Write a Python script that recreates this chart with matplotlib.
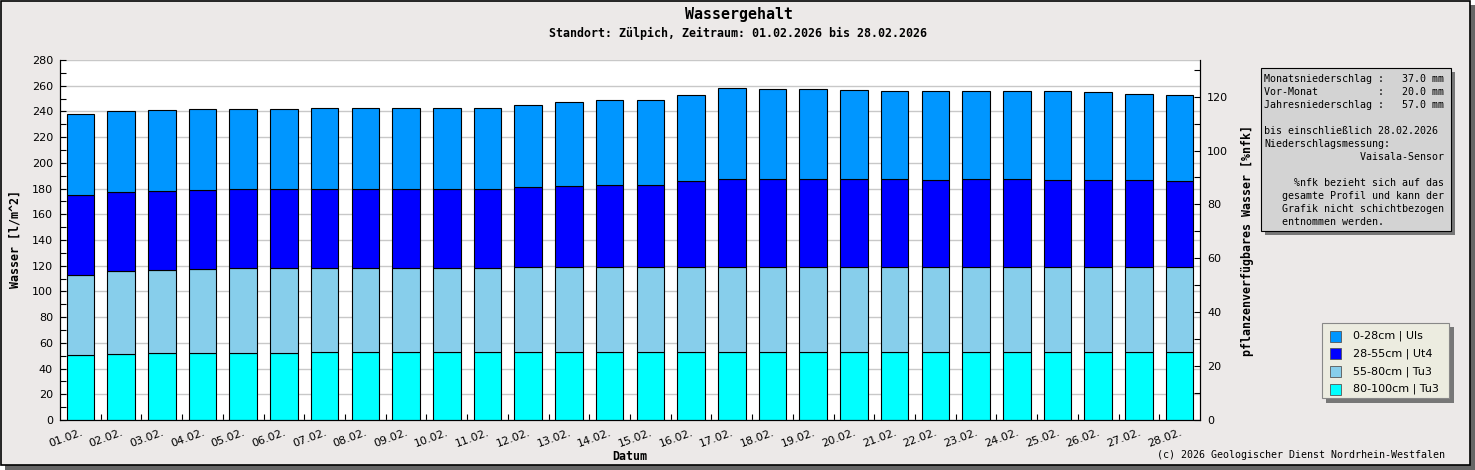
import numpy as np
import matplotlib
matplotlib.use('Agg')
import matplotlib.pyplot as plt
from matplotlib.patches import Rectangle
from matplotlib.ticker import MultipleLocator, FixedLocator
from matplotlib.transforms import ScaledTranslation

# Daten (Wassergehalt je Schicht in l/m^2)
dates = ['%02d.02.' % d for d in range(1, 29)]

layer_80_100 = [50.6, 51.3, 52.1, 52.1, 52.1, 52.1, 52.6, 52.6, 52.6, 52.6,
                52.6, 52.6, 52.6, 52.6, 52.6, 52.6, 52.6, 52.6, 52.6, 52.6,
                52.6, 52.6, 52.6, 52.6, 52.6, 52.6, 52.6, 52.6]
layer_55_80 = [62.4, 64.3, 64.3, 65.1, 65.9, 65.9, 65.4, 65.4, 65.4, 65.4,
               65.4, 66.2, 66.2, 66.2, 66.2, 66.2, 66.2, 66.2, 66.2, 66.2,
               66.2, 66.2, 66.2, 66.2, 66.2, 66.2, 66.2, 66.2]
layer_28_55 = [61.8, 61.5, 61.7, 61.7, 61.7, 61.7, 61.7, 61.7, 61.7, 61.7,
               61.7, 62.2, 63.0, 63.7, 63.7, 67.1, 68.6, 68.6, 68.6, 68.6,
               68.6, 67.9, 68.6, 68.6, 67.9, 67.9, 67.9, 66.9]
layer_0_28 = [63.0, 63.0, 62.8, 62.7, 61.9, 61.9, 62.7, 62.7, 62.7, 62.7,
              62.7, 64.0, 65.3, 66.1, 66.1, 66.9, 70.6, 69.8, 69.8, 69.0,
              68.2, 68.9, 68.2, 68.2, 68.9, 68.1, 66.6, 66.8]

layer_names = ['80-100cm | Tu3', '55-80cm | Tu3', '28-55cm | Ut4', '0-28cm | Uls']
layer_colors = ['#00FFFF', '#87CEEB', '#0000FF', '#0096FF']

info_lines = [
    'Monatsniederschlag :   37.0 mm',
    'Vor-Monat          :   20.0 mm',
    'Jahresniederschlag :   57.0 mm',
    '',
    'bis einschließlich 28.02.2026',
    'Niederschlagsmessung:',
    '                Vaisala-Sensor',
    '',
    '     %nfk bezieht sich auf das',
    '   gesamte Profil und kann der',
    '   Grafik nicht schichtbezogen',
    '   entnommen werden.',
]

W, H = 1475, 470
bg = '#ECE9E8'
mono = 'DejaVu Sans Mono'


def fx(x):
    return x / W


def fy(y):
    return 1 - y / H


def box(x0, y0, x1, y1, **kw):
    # rectangle in pixel coords of the figure (y downwards)
    return Rectangle((fx(x0), fy(y1)), (x1 - x0) / W, (y1 - y0) / H,
                     transform=fig.transFigure, **kw)


fig = plt.figure(figsize=(W / 100, H / 100), dpi=100, facecolor='white')

# Rahmen mit Schatten
fig.add_artist(box(5, 5, 1475, 470, facecolor='#666666', edgecolor='none', zorder=-20))
fig.add_artist(box(0.5, 0.5, 1470, 465, facecolor=bg, edgecolor='black', lw=1.2, zorder=-19))

ax = fig.add_axes([fx(60), fy(420), 1140 / W, 360 / H])
x = np.arange(len(dates))
bottom = np.zeros(len(dates))
for vals, col in zip([layer_80_100, layer_55_80, layer_28_55, layer_0_28], layer_colors):
    ax.bar(x, vals, 0.68, bottom=bottom, color=col, edgecolor='black',
           linewidth=0.8, zorder=3)
    bottom += np.array(vals)

ax.set_xlim(-0.5, len(dates) - 0.5)
ax.set_ylim(0, 280)
ax.set_xticks(x)
ax.set_xticklabels(dates, rotation=20, ha='right', rotation_mode='anchor', fontsize=8)
offset = ScaledTranslation(-7 / 100, 0, fig.dpi_scale_trans)
for lab in ax.get_xticklabels():
    lab.set_transform(lab.get_transform() + offset)
ax.xaxis.set_minor_locator(FixedLocator(np.arange(0.5, len(dates) - 0.5, 1)))
ax.tick_params(axis='x', which='major', length=0, pad=5)
ax.tick_params(axis='x', which='minor', direction='in', length=4, width=0.8)

ax.set_yticks(range(0, 281, 20))
ax.yaxis.set_minor_locator(MultipleLocator(10))
ax.tick_params(axis='y', which='both', direction='in', length=4, width=0.8,
               labelsize=8, pad=5)
ax.grid(axis='y', color='#C8C8C8', lw=1)
ax.set_axisbelow(True)
ax.spines['top'].set_visible(False)
for s in ['left', 'bottom', 'right']:
    ax.spines[s].set_linewidth(0.8)

ax2 = ax.twinx()
ax2.set_ylim(0, 133.6)
ax2.set_yticks(range(0, 121, 20))
ax2.yaxis.set_minor_locator(MultipleLocator(10))
ax2.tick_params(axis='y', which='both', direction='in', length=4, width=0.8,
                labelsize=8, pad=5)
ax2.spines['top'].set_visible(False)
ax2.spines['right'].set_linewidth(0.8)

# Titel und Achsenbeschriftungen
fig.text(fx(739), fy(14), 'Wassergehalt', ha='center', va='center',
         family=mono, weight='bold', size=10.8)
fig.text(fx(738), fy(33), 'Standort: Zülpich, Zeitraum: 01.02.2026 bis 28.02.2026',
         ha='center', va='center', family=mono, weight='bold', size=8.4)
fig.text(fx(15), fy(239), 'Wasser [l/m^2]', ha='center', va='center', rotation=90,
         family=mono, weight='bold', size=8.4)
fig.text(fx(1248), fy(240), 'pflanzenverfügbares Wasser [%nfk]', ha='center',
         va='center', rotation=90, family=mono, weight='bold', size=8.4)
fig.text(fx(630), fy(457), 'Datum', ha='center', va='center', family=mono,
         weight='bold', size=8.4)
fig.text(fx(1157), fy(455), '(c) 2026 Geologischer Dienst Nordrhein-Westfalen',
         ha='left', va='center', family=mono, size=7.2)

# Infobox
fig.add_artist(box(1265, 72, 1455, 235, facecolor='#777777', edgecolor='none', zorder=5))
fig.add_artist(box(1261, 68, 1451, 231, facecolor='#D3D3D3', edgecolor='black', lw=0.8, zorder=6))
for i, line in enumerate(info_lines):
    fig.text(fx(1264), fy(79.3 + 13 * i), line, ha='left', va='center',
             family=mono, size=7.2, zorder=7)

# Legende
fig.add_artist(box(1326, 327, 1454, 403, facecolor='#777777', edgecolor='none', zorder=5))
fig.add_artist(box(1322, 323, 1449, 398, facecolor='#ECECE0', edgecolor='#888888', lw=0.8, zorder=6))
for i, (name, col) in enumerate(zip(layer_names[::-1], layer_colors[::-1])):
    yc = 336 + 17.7 * i
    fig.add_artist(box(1330, yc - 5.5, 1341, yc + 5.5, facecolor=col,
                       edgecolor='#555555', lw=0.6, zorder=7))
    fig.text(fx(1353), fy(yc), name, ha='left', va='center', size=8, zorder=7)

fig.savefig('out.png', dpi=100, facecolor=fig.get_facecolor())
